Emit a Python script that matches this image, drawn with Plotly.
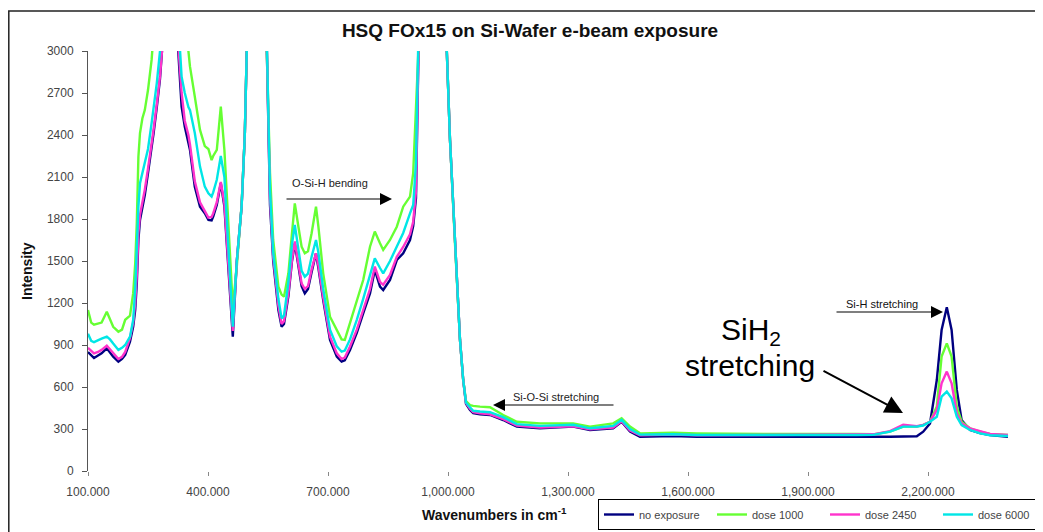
import plotly.graph_objects as go

# ---------------- data ----------------
wavenumbers = [100, 108, 115, 125, 134, 147, 155, 163, 176, 185, 193, 205, 213, 218, 222, 226, 230, 236, 242,
               250, 259, 264, 272, 280, 285, 300, 315, 326, 334, 342, 351, 355, 367, 380, 392, 401, 409, 413,
               422, 426, 432, 441, 451, 462, 472, 484, 492, 497, 505, 540, 547, 555, 563, 576, 584, 590, 601,
               610, 617, 626, 634, 642, 650, 659, 670, 676, 688, 705, 722, 734, 742, 755, 772, 788, 805, 817,
               830, 838, 855, 872, 888, 905, 913, 920, 926, 935, 990, 997, 1005, 1017, 1030, 1038, 1045, 1055,
               1063, 1080, 1105, 1138, 1172, 1230, 1313, 1355, 1413, 1434, 1455, 1480, 1563, 1622, 1800, 2022,
               2063, 2105, 2138, 2172, 2188, 2205, 2222, 2234, 2247, 2259, 2272, 2284, 2305, 2330, 2355, 2400]

no_exposure = [850, 830, 807, 825, 840, 876, 845, 817, 781, 800, 829, 924, 1031, 1150, 1340, 1650, 1793, 1880, 1971,
               2128, 2300, 2414, 2600, 2800, 3000, 3600, 3500, 3000, 2602, 2459, 2350, 2293, 2031, 1888, 1841, 1793, 1790, 1817,
               1900, 1960, 2055, 1888, 1412, 960, 1500, 1888, 2400, 3000, 4000, 4000, 3000, 1900, 1500, 1150, 1031, 1050, 1250,
               1500, 1626, 1450, 1320, 1269, 1300, 1420, 1555, 1450, 1221, 936, 817, 781, 790, 864, 986, 1126, 1269, 1436,
               1317, 1293, 1364, 1507, 1555, 1650, 1750, 1950, 3000, 4500, 4500, 3000, 2364, 1650, 936, 650, 480, 436,
               414, 405, 400, 364, 317, 305, 317, 293, 305, 352, 281, 245, 250, 245, 243, 245,
               245, 245, 245, 248, 281, 340, 650, 1007, 1170, 1007, 579, 364, 293, 270, 257, 245]

dose_1000 = [1150, 1060, 1045, 1055, 1060, 1138, 1080, 1030, 995, 1010, 1080, 1110, 1270, 1480, 1771, 2245, 2414, 2520, 2578,
             2721, 2936, 3150, 3500, 3800, 4000, 4500, 4500, 4000, 3500, 3200, 3000, 2888, 2674, 2436, 2321, 2300, 2221, 2250,
             2293, 2400, 2602, 2293, 1771, 1174, 1460, 1900, 2400, 3000, 4000, 4000, 3000, 2128, 1650, 1317, 1260, 1245, 1412,
             1700, 1912, 1745, 1602, 1555, 1570, 1698, 1888, 1745, 1412, 1102, 1007, 940, 936, 1055, 1221, 1364, 1602, 1710,
             1626, 1579, 1650, 1745, 1888, 1960, 2128, 2600, 3000, 4500, 4500, 3000, 2364, 1650, 936, 650, 500, 471,
             465, 460, 455, 400, 352, 340, 340, 317, 340, 376, 317, 269, 274, 269, 264, 264,
             262, 281, 317, 317, 330, 352, 460, 817, 912, 817, 460, 352, 305, 281, 265, 257]

dose_2450 = [880, 860, 840, 850, 865, 895, 870, 840, 800, 815, 850, 950, 1060, 1200, 1400, 1700, 1830, 1920, 2010,
             2160, 2330, 2440, 2620, 2820, 3000, 3600, 3500, 3050, 2700, 2500, 2400, 2330, 2070, 1920, 1860, 1810, 1815, 1840,
             1920, 1990, 2065, 1910, 1450, 1000, 1500, 1888, 2400, 3000, 4000, 4000, 3000, 1950, 1530, 1180, 1050, 1070, 1270,
             1510, 1640, 1470, 1340, 1300, 1320, 1440, 1555, 1470, 1240, 960, 840, 800, 810, 890, 1010, 1150, 1300, 1460,
             1350, 1330, 1400, 1530, 1600, 1690, 1780, 2000, 3000, 4500, 4500, 3000, 2364, 1650, 936, 650, 485, 445,
             420, 412, 405, 370, 325, 310, 320, 298, 310, 355, 290, 255, 260, 255, 258, 260,
             262, 285, 330, 320, 330, 352, 436, 626, 710, 626, 412, 340, 305, 285, 265, 257]

dose_6000 = [980, 930, 920, 935, 945, 960, 940, 910, 865, 880, 900, 960, 1080, 1300, 1600, 1888, 2055, 2128, 2200,
             2300, 2485, 2600, 2771, 3000, 3200, 3800, 3600, 3200, 2817, 2700, 2600, 2578, 2414, 2174, 2031, 1983, 1960, 1990,
             2080, 2150, 2250, 2100, 1600, 1031, 1500, 1888, 2400, 3000, 4000, 4000, 3000, 2000, 1560, 1230, 1090, 1110, 1350,
             1620, 1757, 1580, 1430, 1388, 1410, 1530, 1650, 1560, 1300, 1010, 890, 852, 860, 940, 1080, 1230, 1400, 1519,
             1450, 1412, 1500, 1602, 1700, 1840, 1900, 2200, 3000, 4500, 4500, 3000, 2364, 1650, 936, 650, 490, 455,
             430, 425, 420, 385, 335, 322, 330, 305, 322, 365, 300, 260, 262, 257, 255, 257,
             258, 281, 317, 317, 325, 352, 388, 531, 567, 519, 388, 328, 293, 269, 255, 250]

series_names = ["no exposure", "dose 1000", "dose 2450", "dose 6000"]
series_values = [no_exposure, dose_1000, dose_2450, dose_6000]
series_colors = ["#000080", "#66FF33", "#FF33CC", "#00E6E6"]

x_tick_vals = [100, 400, 700, 1000, 1300, 1600, 1900, 2200]
x_tick_text = ["100.000", "400.000", "700.000", "1,000.000", "1,300.000", "1,600.000", "1,900.000", "2,200.000"]
y_tick_vals = [0, 300, 600, 900, 1200, 1500, 1800, 2100, 2400, 2700, 3000]

# ---------------- layout geometry (page pixels; the page body adds an 8px offset) ----------------
OFF = 8
PAGE_W, PAGE_H = 1043, 532
W, H = PAGE_W - OFF, PAGE_H - OFF
PLOT_L, PLOT_T, PLOT_B = 88, 51, 471          # plot area edges in page pixels
PW, PH = PAGE_W - PLOT_L, PLOT_B - PLOT_T
X_MIN, X_PER_PX = 100, 2.5
X_MAX = X_MIN + PW * X_PER_PX


def xp(px):
    return (px - PLOT_L) / PW


def yp(py):
    return (PLOT_B - py) / PH


FONT = "Liberation Sans, Arial, sans-serif"

fig = go.Figure()
for name, vals, col in zip(series_names, series_values, series_colors):
    fig.add_trace(go.Scatter(x=wavenumbers, y=vals, mode="lines", name=name,
                             line=dict(color=col, width=2.4)))

fig.update_layout(
    width=W, height=H,
    margin=dict(l=PLOT_L - OFF, r=0, t=PLOT_T - OFF, b=PAGE_H - PLOT_B, autoexpand=False),
    paper_bgcolor="white", plot_bgcolor="white",
    font=dict(family=FONT, size=12, color="#333"),
    title=dict(text="<b>HSQ FOx15 on Si-Wafer e-beam exposure</b>", x=(530 - OFF) / W, xanchor="center",
               y=1 - (30 - OFF) / H, yanchor="middle", font=dict(size=19, color="#111", family=FONT)),
    showlegend=True,
    legend=dict(orientation="h", x=xp(598), xanchor="left", y=yp(499), yanchor="top",
                bordercolor="#000", borderwidth=1, bgcolor="white",
                font=dict(size=11, color="#444", family=FONT), itemwidth=30,
                entrywidth=68, tracegroupgap=0),
)

fig.update_xaxes(range=[X_MIN, X_MAX], tickvals=x_tick_vals, ticktext=x_tick_text,
                 showgrid=False, zeroline=False, showline=False,
                 ticks="outside", ticklen=4, tickcolor="#888", tickwidth=1,
                 tickfont=dict(size=12, color="#444"), ticklabelstandoff=6)
fig.update_yaxes(range=[0, 3000], tickvals=y_tick_vals, showgrid=False, zeroline=False,
                 showline=True, linecolor="#555", linewidth=1,
                 ticks="outside", ticklen=5, tickcolor="#555", tickwidth=1,
                 tickfont=dict(size=12, color="#444"), ticklabelstandoff=6)

# outer frame
fig.add_shape(type="rect", xref="paper", yref="paper", x0=xp(8.8), x1=xp(1060), y0=yp(545), y1=yp(11),
              line=dict(color="#222", width=1.5), fillcolor="rgba(0,0,0,0)", layer="below")

ann = []
# axis titles
ann.append(dict(text="<b>Wavenumbers in cm<sup>-1</sup></b>", x=xp(494), y=yp(514), xref="paper", yref="paper",
                showarrow=False, font=dict(size=14, color="#111"), xanchor="center", yanchor="middle"))
ann.append(dict(text="<b>Intensity</b>", x=xp(27), y=yp(271), xref="paper", yref="paper", textangle=-90,
                showarrow=False, font=dict(size=14, color="#111"), xanchor="center", yanchor="middle"))
# labels
ann.append(dict(text="O-Si-H bending", x=xp(330), y=yp(183), xref="paper", yref="paper", showarrow=False,
                font=dict(size=11, color="#222"), xanchor="center", yanchor="middle"))
ann.append(dict(text="Si-O-Si stretching", x=xp(556), y=yp(397), xref="paper", yref="paper", showarrow=False,
                font=dict(size=11, color="#222"), xanchor="center", yanchor="middle"))
ann.append(dict(text="Si-H stretching", x=xp(882), y=yp(304), xref="paper", yref="paper", showarrow=False,
                font=dict(size=11, color="#111"), xanchor="center", yanchor="middle"))
ann.append(dict(text="SiH<sub>2</sub>", x=xp(719), y=yp(352), xref="paper", yref="paper", showarrow=False,
                font=dict(size=30, color="#000"), xanchor="left", yanchor="bottom"))
ann.append(dict(text="stretching", x=xp(750), y=yp(365), xref="paper", yref="paper", showarrow=False,
                font=dict(size=30, color="#000"), xanchor="center", yanchor="middle"))
# arrows
for hx, hy, ax, ay, w, s in [(392, 199, -107, 0, 1.2, 2.0),
                             (493, 405, 122, 0, 1.2, 2.0),
                             (943, 312, -108, 0, 1.2, 2.0),
                             (903, 413, -81, -43, 2.0, 1.8)]:
    ann.append(dict(text="", x=xp(hx), y=yp(hy), xref="paper", yref="paper", showarrow=True,
                    ax=ax, ay=ay, arrowhead=2, arrowwidth=w, arrowsize=s, arrowcolor="#000", standoff=0))
fig.update_layout(annotations=ann)

fig.write_html("out.html")
